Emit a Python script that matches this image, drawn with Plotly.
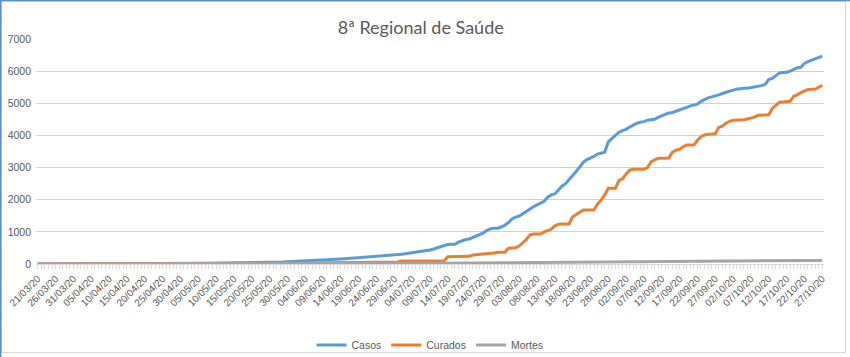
import pandas as pd
import plotly.graph_objects as go

start_date = "2020-03-21"
n_days = 221
dates = pd.date_range(start_date, periods=n_days, freq="D")

series_names = ["Casos", "Curados", "Mortes"]
series_colors = ["#5B9BD5", "#ED7D31", "#A5A5A5"]

casos = [
    0, 0, 0, 0, 0, 0, 0, 0, 0, 0,
    0, 0, 0, 1, 1, 1, 1, 1, 2, 2,
    2, 2, 3, 3, 3, 3, 4, 4, 4, 5,
    5, 5, 6, 6, 6, 7, 7, 8, 8, 9,
    9, 10, 10, 11, 12, 13, 14, 22, 24, 25,
    26, 27, 28, 30, 31, 32, 34, 35, 36, 38,
    40, 42, 44, 46, 48, 50, 53, 56, 60, 64,
    70, 74, 78, 82, 86, 90, 95, 100, 105, 110,
    118, 125, 132, 138, 145, 152, 160, 168, 176, 182,
    188, 195, 200, 206, 212, 220, 232, 245, 255, 262,
    270, 285, 300, 318, 335, 350, 360, 365, 385, 405,
    435, 466, 500, 540, 580, 610, 612, 615, 680, 730,
    760, 780, 830, 880, 912, 970, 1050, 1095, 1110, 1112,
    1150, 1205, 1290, 1400, 1460, 1490, 1560, 1640, 1700, 1780,
    1840, 1890, 1950, 2080, 2150, 2177, 2300, 2420, 2500, 2610,
    2750, 2880, 3030, 3160, 3250, 3290, 3350, 3420, 3460, 3480,
    3800, 3900, 3990, 4100, 4150, 4190, 4260, 4320, 4380, 4410,
    4430, 4475, 4495, 4505, 4560, 4615, 4670, 4700, 4715, 4750,
    4790, 4830, 4875, 4920, 4950, 4975, 5060, 5120, 5170, 5200,
    5225, 5260, 5305, 5345, 5380, 5410, 5435, 5460, 5465, 5465,
    5485, 5500, 5525, 5550, 5590, 5740, 5775, 5850, 5945, 5955,
    5965, 6000, 6060, 6105, 6120, 6240, 6300, 6345, 6390, 6430, 6465,
]

curados = [
    0, 0, 0, 0, 0, 0, 0, 0, 0, 0,
    0, 0, 0, 0, 0, 0, 0, 0, 0, 0,
    0, 0, 0, 0, 0, 0, 0, 0, 0, 0,
    0, 0, 0, 0, 0, 0, 0, 0, 0, 0,
    0, 0, 0, 0, 0, 0, 0, 0, 0, 0,
    0, 0, 0, 0, 0, 0, 0, 0, 0, 0,
    0, 0, 0, 0, 0, 0, 15, 20, 22, 25,
    25, 27, 28, 30, 30, 32, 33, 35, 35, 37,
    38, 40, 40, 42, 43, 45, 45, 47, 48, 50,
    50, 52, 53, 55, 55, 57, 58, 60, 60, 62,
    63, 65, 95, 96, 97, 98, 98, 99, 100, 100,
    100, 100, 101, 102, 102, 225, 227, 228, 230, 232,
    235, 240, 280, 290, 300, 311, 311, 311, 340, 363,
    363, 363, 488, 495, 508, 560, 650, 760, 900, 930,
    933, 935, 1000, 1050, 1080, 1180, 1240, 1244, 1244, 1244,
    1470, 1540, 1620, 1680, 1680, 1680, 1680, 1870, 1990, 2150,
    2354, 2354, 2354, 2600, 2650, 2800, 2920, 2945, 2945, 2945,
    2945, 3000, 3180, 3240, 3287, 3290, 3290, 3300, 3480, 3540,
    3570, 3650, 3700, 3700, 3700, 3850, 3960, 4012, 4040, 4043,
    4050, 4250, 4290, 4380, 4440, 4470, 4470, 4470, 4490, 4510,
    4540, 4570, 4630, 4634, 4634, 4640, 4840, 4950, 5030, 5040,
    5045, 5060, 5220, 5260, 5330, 5380, 5430, 5435, 5435, 5500, 5560,
]

mortes = [
    0, 0, 0, 0, 0, 0, 0, 0, 0, 0, 0, 0, 0, 0, 0, 0, 0, 0, 0, 0,
    0, 0, 0, 0, 0, 1, 1, 1, 1, 1, 1, 1, 1, 1, 1, 2, 2, 2, 2, 2,
    2, 2, 2, 3, 3, 3, 3, 3, 3, 3, 4, 4, 4, 4, 4, 4, 4, 5, 5, 5,
    5, 5, 5, 5, 6, 6, 6, 6, 7, 7, 7, 7, 8, 8, 8, 9, 9, 9, 10, 10,
    10, 10, 11, 11, 11, 12, 12, 12, 13, 13, 13, 14, 14, 14, 15, 15, 15, 16, 16, 17,
    17, 18, 18, 19, 19, 20, 20, 21, 21, 22, 22, 23, 24, 25, 26, 27, 28, 29, 30, 31,
    32, 33, 33, 34, 35, 35, 36, 37, 37, 38, 39, 39, 40, 41, 41, 42, 42, 43, 44, 45,
    45, 46, 47, 48, 48, 49, 50, 51, 51, 52, 53, 54, 55, 56, 57, 58, 59, 60, 61, 62,
    63, 64, 65, 66, 67, 68, 69, 70, 71, 72, 73, 74, 75, 76, 77, 78, 79, 80, 81, 82,
    83, 84, 85, 85, 86, 87, 88, 88, 89, 90, 91, 91, 92, 93, 94, 94, 95, 96, 96, 97,
    98, 98, 99, 100, 100, 101, 102, 102, 103, 104, 104, 105, 106, 106, 107, 108, 108, 109, 110, 110, 111,
]

y_ticks = [0, 1000, 2000, 3000, 4000, 5000, 6000, 7000]
title_text = "8ª Regional de Saúde"

W, H = 850, 357
L, R, T, B = 36, 26, 39, 93
PW, PH = W - L - R, H - T - B


def px(xp):
    return (xp - L) / PW


def py(yp):
    return (H - B - yp) / PH


fig = go.Figure()
for name, vals, col in zip(series_names, [casos, curados, mortes], series_colors):
    fig.add_trace(go.Scatter(
        x=dates[:len(vals)], y=vals, name=name, mode="lines",
        line=dict(color=col, width=3),
    ))

half_day = pd.Timedelta(hours=12)
fig.update_layout(
    width=W, height=H,
    margin=dict(l=L, r=R, t=T, b=B, autoexpand=False),
    paper_bgcolor="white", plot_bgcolor="white",
    font=dict(family="Liberation Sans, Arial", color="#595959", size=10),
    title=dict(text=title_text, x=0.495, xref="container", xanchor="center",
               y=1 - 28 / H, yref="container", yanchor="middle",
               font=dict(family="Lato", size=18, color="#595959")),
    showlegend=True,
    legend=dict(orientation="h", x=0.5, xanchor="center", y=py(345), yanchor="middle",
                font=dict(size=10.5, color="#595959"), itemwidth=30,
                bgcolor="rgba(0,0,0,0)"),
    xaxis=dict(
        type="date", automargin=False,
        range=[dates[0] - half_day, dates[-1] + half_day],
        tick0=start_date, dtick=5 * 86400000,
        tickformat="%d/%m/%y", tickangle=-45,
        ticks="outside", ticklen=4, tickcolor="#d9d9d9",
        minor=dict(dtick=86400000, ticks="outside", ticklen=4, tickcolor="#d9d9d9"),
        showgrid=False, showline=True, linecolor="#d9d9d9",
        tickfont=dict(size=10, color="#595959"),
        fixedrange=True,
    ),
    yaxis=dict(
        range=[0, 7000], tickvals=y_ticks, automargin=False,
        showgrid=True, gridcolor="#d0d0d0", gridwidth=1,
        zeroline=False, showline=False,
        tickfont=dict(size=10.5, color="#595959"),
        ticklabelstandoff=4,
        fixedrange=True,
    ),
    shapes=[
        dict(type="rect", xref="paper", yref="paper",
             x0=px(1.5), x1=px(845.5), y0=py(352.5), y1=py(1.5),
             line=dict(color="#d9d9d9", width=1)),
        dict(type="line", xref="paper", yref="paper",
             x0=px(0), x1=px(850), y0=py(0.5), y1=py(0.5),
             line=dict(color="#5B8FC9", width=1.5)),
        dict(type="line", xref="paper", yref="paper",
             x0=px(0.7), x1=px(0.7), y0=py(0), y1=py(357),
             line=dict(color="#5B8FC9", width=1.5)),
    ],
)

fig.write_html(
    "out.html",
    config={"displayModeBar": False},
    post_script="document.body.style.margin='0px';document.body.style.padding='0px';",
)
